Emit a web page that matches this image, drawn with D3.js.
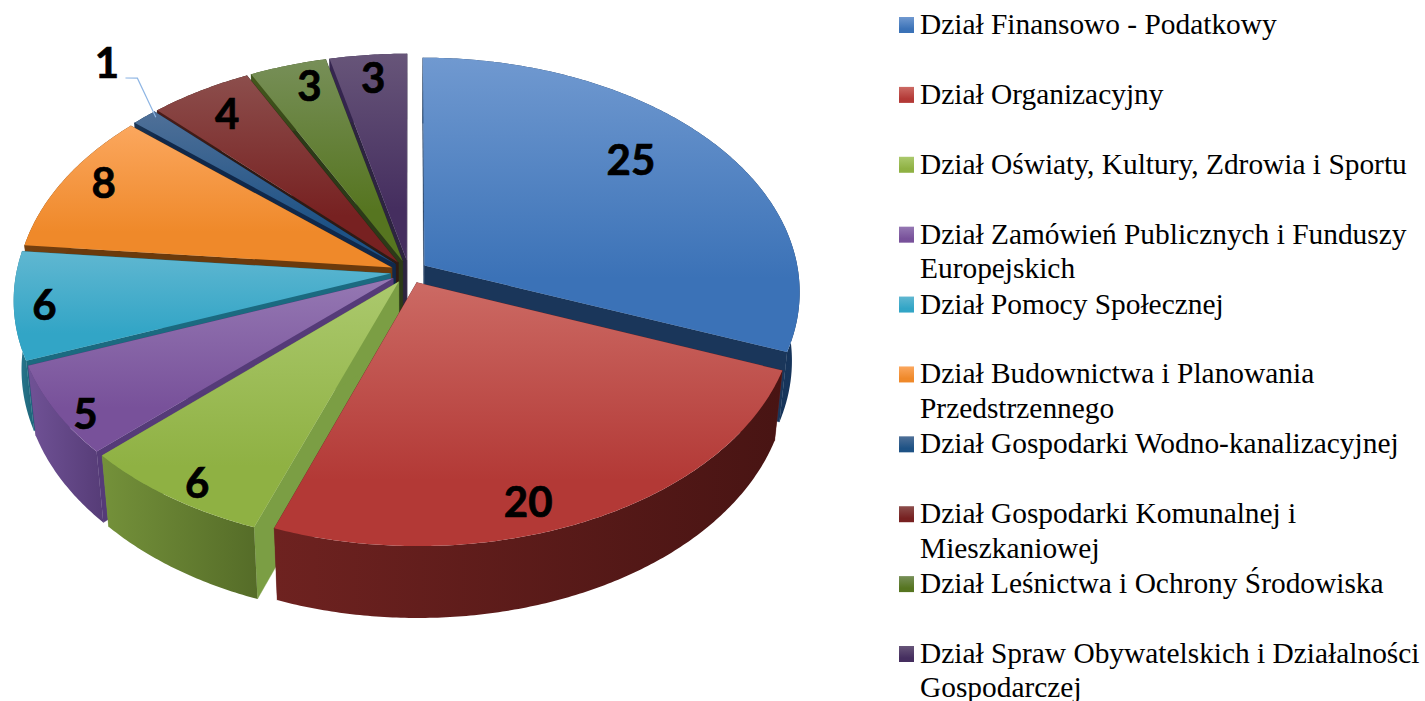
<!DOCTYPE html>
<html><head><meta charset="utf-8">
<script src="https://cdn.jsdelivr.net/npm/d3@7"></script>
<style>html,body{margin:0;padding:0;background:#fff;overflow:hidden}svg{display:block}</style>
</head><body><div id="c"></div>
<script>
const values=[25,20,6,5,6,8,1,4,3,3];
const legendLines=[["Dział Finansowo - Podatkowy"],["Dział Organizacyjny"],["Dział Oświaty, Kultury, Zdrowia i Sportu"],["Dział Zamówień Publicznych i Funduszy","Europejskich"],["Dział Pomocy Społecznej"],["Dział Budownictwa i Planowania","Przedstrzennego"],["Dział Gospodarki Wodno-kanalizacyjnej"],["Dział Gospodarki Komunalnej i","Mieszkaniowej"],["Dział Leśnictwa i Ochrony Środowiska"],["Dział Spraw Obywatelskich i Działalności","Gospodarczej"]];
const topLight=["#7099d0","#cc6a64","#abc96d","#9578b3","#60b7d1","#fba75e","#4f7098","#8c4e4c","#778f58","#675579"];
const topDark=["#3b72b7","#b33936","#8fb143","#78519a","#32a5c6","#ef892a","#1e5285","#772121","#567520","#452e5f"];
const wallLight=["#1b3a60","#6e2220","#74913a","#705296","#2b7f96","#75400f","#1a3554","#4d1c18","#43581c","#362650"];
const wallDark=["#16345a","#481413","#556c28","#563c77","#1f6478","#63350c","#12294a","#2e1a12","#2d3a16","#2a2040"];
const radialWall=["#1a365a","#6a2020","#7b9e44","#553b78","#1b6a80","#6b3a0c","#10284a","#2f1a14","#2c3a18","#2d2440"];
const labelRadius=[.81,.935,.97,.99,.97,.945,1.345,.91,.93,.93];
const labelAngle=[50.7,162.1,212.1,235,262,295.5,318.2,324.7,341.7,353.5];
const leaderRadius=[1.243,1.219,1.026];
const leaderAngle=[317.8,319,314.6];

const W=1425,H=701;
const C={x:409,y:272,sx:374,sy:232,p:.11,explode:.05,depth:69,shrink:.02};
const svg=d3.select("#c").append("svg").attr("width",W).attr("height",H).attr("viewBox",[0,0,W,H]);
const defs=svg.append("defs");
function grad(id,c1,c2,horizontal){
  const g=defs.append("linearGradient").attr("id",id).attr("x1",0).attr("y1",0).attr("x2",horizontal?1:0).attr("y2",horizontal?0:1);
  g.append("stop").attr("offset",0).attr("stop-color",c1);
  g.append("stop").attr("offset",horizontal?1:.75).attr("stop-color",c2);
}
const zScale=d3.scaleLinear().domain([0,1]).range([0,C.shrink]);
function project(X,Y,z){
  const w=1+C.p*Y+zScale(z);
  return [C.x+C.sx*X/w, C.y-C.sy*Y/w+z*C.depth/(1+C.p*Y)];
}
const rad=d=>d*Math.PI/180;
const pie=d3.pie().sort(null).startAngle(0).endAngle(2*Math.PI);
const arcs=pie(values).map((a,i)=>{
  const mid=(a.startAngle+a.endAngle)/2;
  return {...a,i,mid,ox:C.explode*Math.sin(mid),oy:C.explode*Math.cos(mid)};
});
const line=d3.line().curve(d3.curveLinear);
function rim(a,z){
  const n=Math.max(6,Math.ceil((a.endAngle-a.startAngle)/0.01));
  return d3.range(n+1).map(k=>{
    const t=a.startAngle+(a.endAngle-a.startAngle)*k/n;
    return project(Math.sin(t)+a.ox,Math.cos(t)+a.oy,z);
  });
}
const apex=(a,z)=>project(a.ox,a.oy,z);
values.forEach((v,i)=>{
  grad("top"+i,topLight[i],topDark[i],false);
  grad("wall"+i,wallLight[i],wallDark[i],true);
});
const order=arcs.slice().sort((a,b)=>Math.cos(b.mid)-Math.cos(a.mid));
const pieG=svg.append("g");
order.forEach(a=>{
  const g=pieG.append("g");
  const rt=rim(a,0),rb=rim(a,1),at=apex(a,0),ab=apex(a,1);
  const c=radialWall[a.i];
  [[at,rt[0],rb[0],ab],[at,rt[rt.length-1],rb[rb.length-1],ab]].forEach(q=>{
    g.append("path").attr("d",line(q)+"Z").attr("fill",c).attr("stroke",c).attr("stroke-width",.4);
  });
  g.append("path").attr("d",line(rt.concat(rb.slice().reverse()))+"Z").attr("fill",`url(#wall${a.i})`);
  g.append("path").attr("d",line([at].concat(rt))+"Z").attr("fill",`url(#top${a.i})`);
});
// leader line for the small slice
const polar=(r,deg)=>project(r*Math.sin(rad(deg)),r*Math.cos(rad(deg)),0);
svg.append("path").attr("d",line(leaderRadius.map((r,k)=>polar(r,leaderAngle[k])))).attr("fill","none").attr("stroke","#8fb6e4").attr("stroke-width",1.2);
// value labels
svg.append("g").selectAll("text").data(values).join("text")
  .attr("x",(d,i)=>polar(labelRadius[i],labelAngle[i])[0])
  .attr("y",(d,i)=>polar(labelRadius[i],labelAngle[i])[1])
  .attr("text-anchor","middle").attr("dominant-baseline","central")
  .attr("font-family","Lato, 'Open Sans', sans-serif").attr("font-weight",700).attr("font-size",42)
  .attr("fill","#000").attr("stroke","#000").attr("stroke-width",.7)
  .text(d=>d);
// legend
const legendY=d3.scaleLinear().domain([0,9]).range([34,663]);
const leg=svg.append("g").selectAll("g").data(legendLines).join("g").attr("transform",(d,i)=>`translate(899,${legendY(i)})`);
leg.append("rect").attr("x",0).attr("y",-17).attr("width",15).attr("height",16).attr("fill",(d,i)=>`url(#top${i})`);
const lt=leg.append("text").attr("x",21).attr("y",0).attr("font-family","'Liberation Serif',serif").attr("font-size",29.4).attr("fill","#000");
lt.selectAll("tspan").data(d=>d).join("tspan").attr("x",21).attr("dy",(d,k)=>k?34.3:0).text(d=>d);
</script></body></html>
